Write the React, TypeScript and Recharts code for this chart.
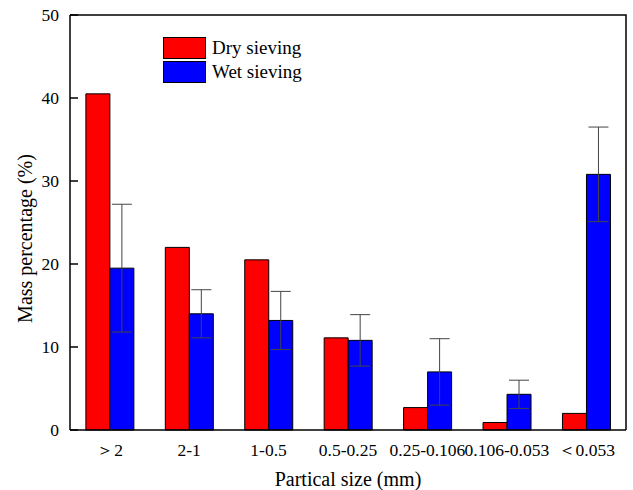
import { BarChart, Bar, XAxis, YAxis, ErrorBar, Legend } from 'recharts';

const sizes = ['＞2', '2-1', '1-0.5', '0.5-0.25', '0.25-0.106', '0.106-0.053', '＜0.053'];
const dry = [40.5, 22.0, 20.5, 11.1, 2.7, 0.9, 2.0];
const wet = [19.5, 14.0, 13.2, 10.8, 7.0, 4.3, 30.8];
const wetErr = [7.7, 2.9, 3.5, 3.1, 4.0, 1.7, 5.7];
const yTicks = [0, 10, 20, 30, 40, 50];

const data = sizes.map((s, i) => ({ size: s, dry: dry[i], wet: wet[i], wetErr: wetErr[i] }));

const font = '"Liberation Serif", "Times New Roman", serif';
const axisLine = { stroke: '#000', strokeWidth: 1.5 };

const W = 633;
const H = 490;
const M = { top: 15, right: 7, left: 0, bottom: 0 };

function SieveLegend() {
  const item = (color: string, label: string) => (
    <div style={{ display: 'flex', alignItems: 'center', height: 24 }}>
      <div style={{ width: 41, height: 20, background: color, border: '1px solid #000', marginRight: 6 }} />
      <span style={{ fontSize: 19, color: '#000', fontFamily: font }}>{label}</span>
    </div>
  );
  return (
    <div>
      {item('#ff0000', 'Dry sieving')}
      {item('#0000ff', 'Wet sieving')}
    </div>
  );
}

// y-axis title, plus the top and right edges of the plot frame
function YLabel(props: any) {
  const { viewBox } = props;
  const x = viewBox.x + 25;
  const y = viewBox.y + viewBox.height / 2 + 16;
  const left = viewBox.x + viewBox.width;
  const right = W - M.right;
  const top = viewBox.y;
  const bottom = viewBox.y + viewBox.height;
  return (
    <g>
      <path d={`M${left},${top}H${right}V${bottom}`} fill="none" stroke="#000" strokeWidth={1.5} />
      <text x={x} y={y} transform={`rotate(-90 ${x} ${y})`} textAnchor="middle" dominantBaseline="central"
        fill="#000" fontSize={20} fontFamily={font}>
        Mass percentage (%)
      </text>
    </g>
  );
}

export default function App() {
  return (
    <div style={{ position: 'absolute', left: 0, top: 0, background: '#fff', fontFamily: font }}>
      <BarChart
        width={W}
        height={H}
        data={data}
        margin={M}
        barCategoryGap="20%"
        barGap={0}
      >
        <XAxis
          dataKey="size"
          height={60}
          tickLine={false}
          axisLine={axisLine}
          tick={{ fill: '#000', fontSize: 17.5, fontFamily: font }}
          tickMargin={8}
          interval={0}
          label={{ value: 'Partical size (mm)', position: 'insideBottom', offset: 4, fill: '#000', fontSize: 20, fontFamily: font }}
        />
        <YAxis
          width={70}
          domain={[0, 50]}
          ticks={yTicks}
          tickSize={-8}
          tickMargin={19}
          tickLine={axisLine}
          axisLine={axisLine}
          tick={{ fill: '#000', fontSize: 17.5, fontFamily: font }}
          label={<YLabel />}
        />
        <Legend
          layout="vertical"
          verticalAlign="middle"
          align="center"
          content={<SieveLegend />}
          wrapperStyle={{ position: 'absolute', left: 163, top: 36, width: 'auto' }}
        />
        <Bar dataKey="dry" name="Dry sieving" fill="#ff0000" stroke="#000" strokeWidth={1} isAnimationActive={false} />
        <Bar dataKey="wet" name="Wet sieving" fill="#0000ff" stroke="#000" strokeWidth={1} isAnimationActive={false}>
          <ErrorBar dataKey="wetErr" width={10} stroke="#444" strokeWidth={1} direction="y" />
        </Bar>
      </BarChart>
    </div>
  );
}
